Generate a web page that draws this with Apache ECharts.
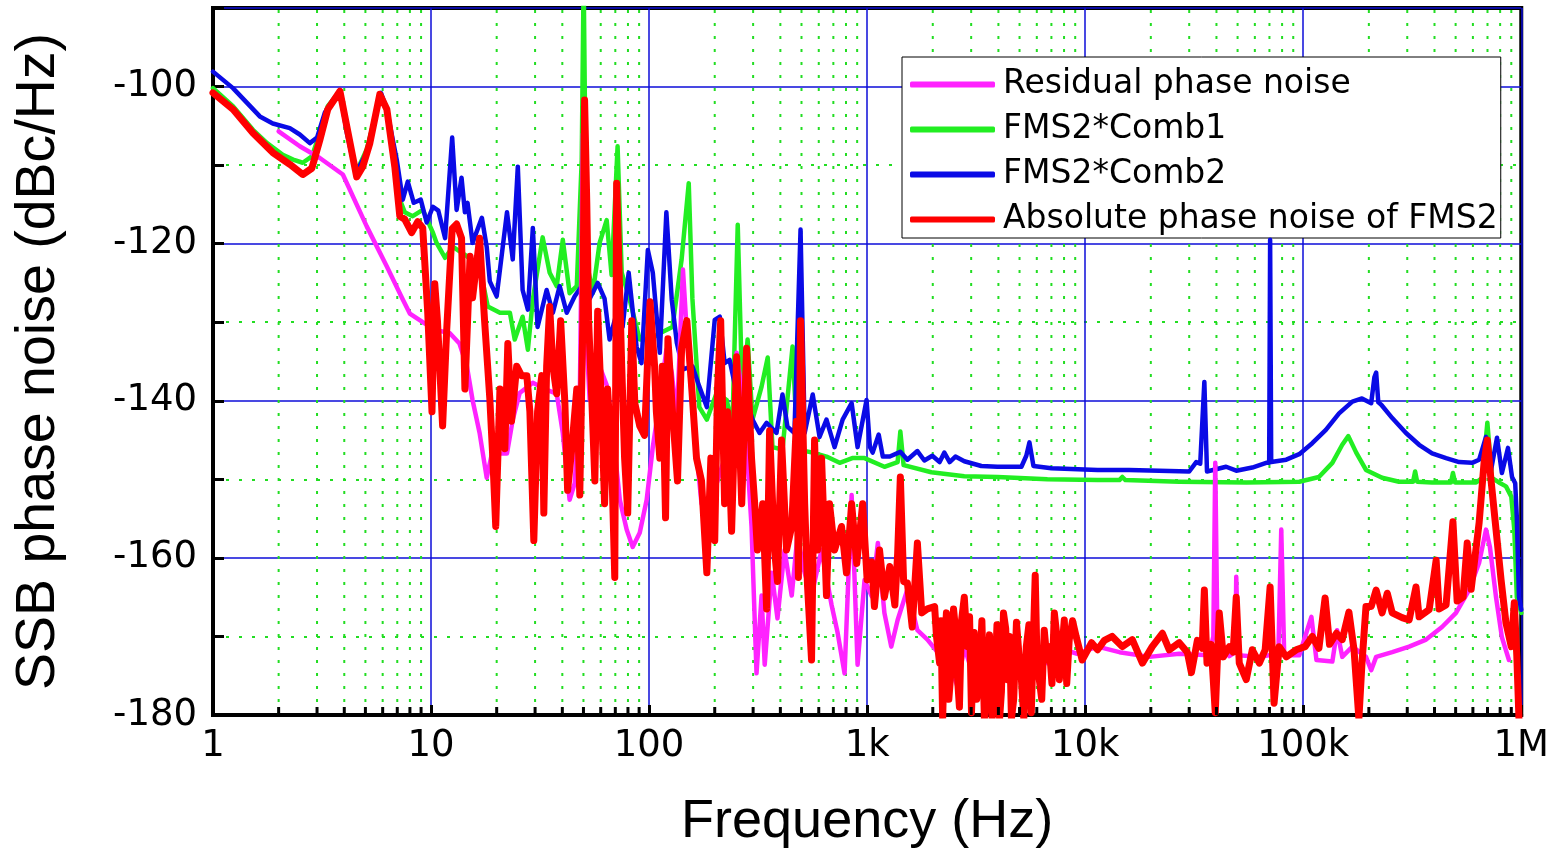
<!DOCTYPE html>
<html>
<head>
<meta charset="utf-8">
<script src="https://cdn.jsdelivr.net/npm/echarts@6/dist/echarts.min.js"></script>
<style>html,body{margin:0;padding:0;background:#fff;}#c{width:1552px;height:854px;}</style>
</head>
<body>
<div id="c"></div>
<script>
// ---- tick labels / axis ----
const xTickLabels = ['1','10','100','1k','10k','100k','1M'];
const minorTickFreqs = [2,3,4,5,6,7,8,9,20,30,40,50,60,70,80,90,200,300,400,500,600,700,800,900,
  2000,3000,4000,5000,6000,7000,8000,9000,20000,30000,40000,50000,60000,70000,80000,90000,
  200000,300000,400000,500000,600000,700000,800000,900000];
const seriesNames = ['Residual phase noise','FMS2*Comb1','FMS2*Comb2','Absolute phase noise of FMS2'];

// ---- series values: [frequency Hz, dBc/Hz] ----
const residual = [
[2.0,-105.7],[2.5,-107.6],[3.09,-109.1],[3.94,-111.2],[5.07,-117.8],[6.27,-122.9],[7.42,-127.1],[7.99,-128.9],[9.16,-130],
[10.6,-131],[12.2,-131.4],[13.5,-132.7],[14.6,-135.6],[15.5,-139.9],[16.7,-144.1],[18.0,-149.8],[19.2,-146.2],[20.7,-146.7],[22.3,-146.7],[23.7,-142.4],[25.5,-139],[29.3,-137.7],[33.9,-138.6],[37.7,-139.1],[40.2,-144.1],[43.2,-152.6],[45.6,-150.5],[48.1,-140],[49.7,-106],[51.1,-130],[53.4,-139.9],[55.2,-138],[59.3,-135.6],[63.9,-138],[68.2,-144.1],[73.4,-152.6],[78.9,-156.4],[84.1,-158.6],[90.6,-156.8],[97.5,-152.6],
[104,-145.9],[112,-139.9],[120,-133.5],[127,-136.4],[134,-142.4],[143,-123.3],[150,-132.7],[162,-144.4],[174,-153.1],[194,-152.5],[206,-150.2],[222,-147.3],[239,-153.1],[252,-133.9],[274,-141.4],[295,-156],[311,-174.7],[328,-164.8],[339,-173.6],[365,-161.9],[388,-167.7],[418,-159],[451,-164.8],[479,-157.2],[517,-161.9],[556,-164.8],[618,-159],[687,-166],[732,-169.5],[788,-174.7],[849,-152],[904,-173.6],
[973,-162.8],[1050,-164.9],[1120,-158.1],[1200,-167],[1290,-171.3],[1380,-167.9],[1530,-164],[1700,-169.2],[1890,-170.4],[2190,-172.6],[2440,-174.3],[2600,-176.4],[2790,-171.3],[3100,-175.5],[3450,-173.4],[3960,-173.9],[4730,-172.6],[5660,-172.6],[6710,-173.4],[8020,-171.7],[9200,-172.2],
[11400,-171.3],[14350,-172],[19700,-172.6],[27000,-172.2],[37000,-172.4],[38700,-170],[39500,-147.9],[40400,-170],[45800,-172.5],[48800,-172],[49300,-162.4],[50400,-172.4],[62900,-172.6],[76900,-172.2],[79300,-156.4],[81800,-172.4],
[95900,-172.4],[109000,-167.5],[115000,-173],[136000,-173.2],[143000,-169.2],[151000,-172.6],[168000,-171.3],[194000,-172.6],[205000,-174.3],[216000,-172.6],[256000,-172],[306000,-171.3],[366000,-170.4],[433000,-168.8],[502000,-167],[576000,-164.1],[641000,-160.6],[689000,-156.4],[718000,-158.6],[766000,-165],[815000,-170.1],[878000,-173]
];

const comb1 = [
[1.0,-100.2],[1.235,-102.5],[1.525,-105.5],[1.77,-107.2],[2.09,-108.7],[2.33,-109.3],[2.58,-109.7],[2.84,-108.9],[3.09,-105.9],[3.36,-102.5],[3.82,-100.6],[4.11,-105.5],[4.52,-111],[5.07,-108],[5.89,-101],[6.27,-103],[6.96,-110.6],[7.19,-114.4],[7.58,-116],[8.24,-116.5],[9.16,-115.7],
[10.2,-118.6],[10.6,-119.9],[11.6,-121.8],[12.6,-120.4],[14.6,-121.6],[16.7,-122.9],[18.2,-128],[20.7,-128.8],[23.0,-128.8],[24.2,-132.2],[26.3,-129.3],[27.8,-133.5],[29.3,-127.1],[32.5,-119.2],[35.0,-123.7],[37.7,-125.4],[40.2,-119.5],[43.2,-126.3],[46.6,-125.4],[49.1,-109.3],[50.1,-86],[51.1,-110],[52.2,-122.9],[55.2,-126.3],[59.3,-119.9],[63.9,-117],[67.3,-124],[71.7,-107.6],[74.9,-123.7],[81.4,-127.1],[90.6,-132.2],
[101,-132.2],[112,-131.4],[128,-130.6],[141,-122],[152,-112.3],[158,-127],[170,-140.8],[184,-142.4],[204,-139],[227,-139.9],[241,-143.3],[255,-117.6],[268,-140],[283,-132.2],[298,-142.4],[328,-138.2],[350,-134.5],[368,-145.9],[409,-146.2],[455,-133.1],[479,-146.2],[563,-146.6],[651,-147.1],[748,-147.9],[855,-147.3],
[973,-147.3],[1200,-148.4],[1380,-147.8],[1420,-143.9],[1470,-148.2],[1970,-149.1],[2790,-149.6],[3960,-149.7],[6710,-150],
[11400,-150.1],[14350,-150.1],[14800,-149.7],[15300,-150.1],[27000,-150.3],[54800,-150.4],
[95900,-150.3],[118000,-149.7],[136000,-147.9],[151000,-145.6],[161000,-144.5],[175000,-146.6],[194000,-148.8],[230000,-149.8],[275000,-150.3],[319000,-150.3],[326000,-149],[333000,-150.3],[390000,-150.4],[476000,-150.4],[486000,-149.2],[497000,-150.4],[621000,-150.4],[663000,-149.8],[699000,-142.8],[733000,-149.8],[790000,-150.4],[851000,-150.9],[900000,-152.2],[929000,-156.4],[954000,-165],[1000000,-167]
];

const comb2 = [
[1.0,-98.1],[1.235,-100.2],[1.64,-103.8],[1.88,-104.7],[2.25,-105.3],[2.5,-106.1],[2.78,-107.2],[3.0,-106.5],[3.26,-103.3],[3.55,-101.7],[3.82,-100.6],[4.11,-105.9],[4.52,-111],[5.07,-108.4],[5.41,-105],[5.89,-100.8],[6.27,-102.9],[6.96,-109.3],[7.42,-114.4],[7.82,-112.1],[8.33,-114.8],[8.97,-114.4],[9.55,-117.3],
[10.2,-115.3],[10.8,-115.8],[11.6,-119.3],[12.5,-106.5],[13.1,-115.7],[13.8,-111.6],[14.3,-116],[14.7,-114.8],[15.5,-119.9],[17.1,-116.7],[18.0,-120.4],[18.6,-124.8],[20.0,-126.7],[22.3,-116],[23.7,-122],[25.0,-110.2],[26.3,-125.9],[27.8,-128.4],[29.3,-118],[30.8,-130.6],[33.9,-125.9],[36.2,-128.8],[38.9,-125.4],[41.9,-128.8],[45.6,-126.7],[49.1,-125.4],[53.4,-127],[58.1,-125],[62.5,-127],[65.9,-132.2],[71.0,-128.8],[75.6,-130.6],[80.6,-123.7],[87.6,-133.1],[92.3,-135.2],[98.7,-120.8],
[104,-123.7],[112,-133.9],[120,-116],[127,-127.1],[134,-132.6],[143,-136],[158,-135.6],[170,-138.2],[184,-140.8],[200,-129.7],[211,-129.3],[222,-135.2],[234,-134.8],[252,-139],[280,-139.9],[298,-142.4],[321,-144.1],[346,-142.8],[384,-144.1],[409,-139.2],[431,-143.3],[464,-144.1],[495,-118.2],[517,-144.1],[563,-139.2],[605,-144.6],[651,-142.4],[709,-145.9],[772,-142.4],[849,-140.3],[904,-145.9],
[994,-139.9],[1030,-145.9],[1060,-146.6],[1130,-144.3],[1180,-147.1],[1270,-147.1],[1420,-146.5],[1530,-147.5],[1700,-146.4],[1830,-147.6],[1990,-147],[2150,-147.8],[2260,-146.6],[2390,-147.8],[2540,-147.1],[2790,-147.7],[3340,-148.3],[3960,-148.4],[5100,-148.4],[5370,-147],[5550,-145.3],[5790,-148.3],[7000,-148.6],[8630,-148.7],
[11400,-148.8],[15900,-148.8],[30000,-149],[32300,-147.8],[33700,-148],[35200,-137.6],[36200,-149],[44300,-148.4],[49300,-148.9],[58400,-148.5],[67600,-147.9],[69800,-147.9],[70500,-119.5],[71300,-147.8],[83600,-147.5],
[95900,-146.8],[110000,-145.4],[127000,-143.7],[146000,-141.6],[168000,-140.1],[186000,-139.7],[205000,-140.3],[212000,-137],[216000,-136.4],[221000,-140.2],[228000,-140.5],[256000,-142.2],[296000,-144.1],[340000,-145.6],[390000,-146.7],[452000,-147.3],[519000,-147.8],[595000,-147.9],[641000,-147.5],[689000,-144.6],[726000,-148.9],[774000,-144.7],[815000,-149.2],[869000,-146],[907000,-149.7],[938000,-150.5],[954000,-154.8],[976000,-165],[1000000,-166.6]
];

const absolute = [
[1.0,-100.8],[1.235,-102.9],[1.525,-105.9],[1.88,-108.4],[2.25,-109.9],[2.58,-111.2],[2.84,-110.4],[3.09,-106.8],[3.36,-102.9],[3.82,-100.6],[4.11,-105.1],[4.56,-111.5],[4.86,-110.2],[5.24,-107.2],[5.82,-101],[6.27,-102.9],[6.82,-110.2],[7.19,-116.5],[7.58,-116.9],[8.15,-118.6],[8.69,-117.2],[9.16,-118],[9.65,-128.6],
[10.1,-141.4],[10.4,-125.1],[10.7,-129.8],[11.3,-143.2],[11.8,-130.9],[12.5,-118.1],[13.1,-117.5],[13.8,-119.3],[14.3,-138.5],[15.1,-121.6],[15.5,-126.9],[16.7,-119.3],[17.6,-129.8],[18.6,-139.7],[19.2,-147.3],[19.8,-156],[20.7,-138.5],[21.8,-146.1],[22.5,-132.7],[23.4,-142.6],[24.7,-135.6],[26.0,-136.8],[27.5,-136.8],[28.4,-141.4],[29.6,-157.8],[30.8,-141.4],[32.2,-136.8],[32.9,-154.3],[33.9,-135.6],[35.0,-128],[36.2,-135.6],[37.7,-139.1],[39.3,-129.8],[41.1,-140.3],[42.3,-151.4],[44.2,-146.1],[46.6,-138.5],[48.1,-152],[49.7,-129.8],[50.6,-101.7],[51.8,-115],[52.8,-129.8],[54.6,-139.7],[56.4,-150.2],[58.1,-128.6],[60.6,-141.4],[62.5,-153.1],[64.5,-138.5],[67.3,-147.3],[69.6,-162.5],[71.0,-112.3],[74.9,-135.6],[77.2,-147.3],[79.8,-154.3],[83.3,-129.8],[86.0,-140.3],[90.6,-143.2],[95.3,-144.4],
[101,-127.4],[106,-135.6],[108,-141.4],[112,-147.3],[115,-135.6],[119,-154.9],[122,-132.1],[128,-141.4],[135,-150.2],[141,-133.3],[149,-129.8],[157,-138.5],[165,-147.3],[174,-150.2],[184,-161.9],[192,-147.3],[200,-157.8],[206,-138.5],[213,-129.8],[222,-153.1],[229,-141.4],[239,-156.6],[252,-134.4],[266,-153.1],[280,-133.3],[295,-147.3],[305,-153.1],[314,-159],[332,-153.1],[346,-166.5],[357,-143.8],[376,-159],[388,-163],[405,-145],[427,-159],[451,-156],[474,-142.6],[484,-162.5],[495,-129.8],[517,-153.1],[533,-163.6],[556,-173],[574,-145],[592,-159],[618,-147.3],[651,-164.8],[672,-153.1],[709,-159],[763,-156],[804,-161.9],[849,-153.1],[896,-160.7],[954,-153.1],
[1000,-162.8],[1050,-160.5],[1080,-166.2],[1140,-159],[1200,-165],[1270,-161.1],[1340,-166],[1380,-159.5],[1420,-149.7],[1470,-163],[1530,-163.2],[1610,-168.8],[1700,-158.1],[1780,-167],[1890,-166.5],
[2040,-166.2],[2080,-170],[2150,-173.4],[2180,-168],[2220,-180.5],[2260,-172],[2310,-167],[2370,-178],[2440,-173.4],[2490,-166.5],[2560,-170],[2600,-175.5],[2650,-179],[2710,-168],[2790,-165],[2880,-171.3],[2950,-167.5],[3010,-179.7],[3100,-169.5],[3180,-178],[3270,-175.5],[3360,-168],[3450,-180.5],[3540,-176],[3640,-169.8],[3740,-180.5],[3830,-178],[3940,-168.5],[4050,-180.5],[4130,-177],[4220,-167],[4320,-169],[4400,-175.5],[4500,-170],[4590,-180.5],[4700,-178],[4840,-168.2],[4960,-172],[5100,-175.5],[5230,-180.5],[5370,-171.3],[5520,-168.5],[5660,-179.7],[5900,-162.2],[6000,-172],[6160,-175.5],[6320,-178],[6490,-169.2],[6680,-173],[6850,-171.3],[7040,-176],[7220,-167],[7420,-170],[7610,-175.5],[7810,-172],[8020,-167.9],[8230,-176],[8450,-170.4],[8750,-168],[9090,-170],[9690,-173],
[10700,-170.8],[11400,-171.7],[12250,-170.5],[13300,-170],[14800,-171.3],[16450,-170.4],[18300,-173.4],[20300,-171.3],[22600,-169.6],[24300,-171.7],[27000,-170.8],[29400,-172],[30700,-174.6],[32700,-170.5],[34400,-171.5],[35200,-164.1],[36200,-173.4],[37800,-171],[39500,-179.7],[41200,-167],[43000,-172.6],[45800,-171.3],[47700,-172],[49300,-165],[50900,-173.4],[54800,-175.5],[58400,-171.7],[62900,-173.4],[66900,-171.7],[70500,-163.7],[73500,-178.5],[77600,-171.3],[83600,-172.6],[92800,-171.7],
[102000,-171.3],[110000,-170],[118000,-171.5],[126000,-165.1],[132000,-171],[142000,-169.6],[151000,-170.4],[162000,-166.9],[171000,-171.7],[180000,-180.5],[186000,-173.4],[194000,-166.2],[205000,-166.2],[216000,-164.1],[230000,-167],[243000,-164.5],[256000,-167],[284000,-167.6],[306000,-167.9],[329000,-163.7],[340000,-167.5],[378000,-166.6],[407000,-160.3],[420000,-166.5],[452000,-166],[486000,-155.4],[508000,-165.5],[541000,-165],[565000,-158.1],[589000,-164],[641000,-155.5],[675000,-147.9],[699000,-145],[726000,-150],[766000,-156.4],[808000,-162.8],[851000,-168.3],[900000,-171.3],[929000,-165.7],[954000,-172.5],[976000,-180.5]
];

const TITLE_FONT = 'Liberation Sans, Arial, sans-serif';
const LABEL_FONT = 'DejaVu Sans, sans-serif';
const BLUE_GRID = '#0c0cd8';
const GREEN_GRID = '#22dd22';

const chart = echarts.init(document.getElementById('c'), null, {renderer: 'canvas'});

function lineSeries(name, data, color, width, z) {
  return {
    name: name, type: 'line', data: data, showSymbol: false, symbol: 'none',
    lineStyle: {color: color, width: width, join: 'round', cap: 'round'},
    itemStyle: {color: color}, z: z, clip: true, silent: true
  };
}

chart.setOption({
  animation: false,
  backgroundColor: '#fff',
  grid: {left: 213, right: 30, top: 8, bottom: 138, show: true, borderColor: '#000', borderWidth: 4, backgroundColor: '#fff'},
  legend: {
    data: seriesNames,
    orient: 'vertical', left: 902, top: 57,
    icon: 'roundRect', itemWidth: 85, itemHeight: 6, itemGap: 8,
    padding: [9, 3, 0, 8],
    backgroundColor: '#fff', borderColor: '#000', borderWidth: 1, borderRadius: 0,
    textStyle: {fontSize: 33, fontFamily: LABEL_FONT, color: '#000', lineHeight: 37, padding: [0, 0, 0, 3]},
    selectedMode: false
  },
  xAxis: {
    type: 'log', logBase: 10, min: 1, max: 1000000,
    name: 'Frequency (Hz)', nameLocation: 'middle', nameGap: 80,
    nameTextStyle: {fontSize: 54, fontFamily: TITLE_FONT, color: '#000'},
    axisLine: {show: true, onZero: false, lineStyle: {color: '#000', width: 4}},
    axisTick: {show: true, inside: true, length: 10, lineStyle: {color: '#000', width: 3}},
    axisLabel: {fontSize: 37, fontFamily: LABEL_FONT, color: '#000', margin: 13,
      formatter: function (v) { return xTickLabels[Math.round(Math.log10(v))]; }},
    splitLine: {show: true, lineStyle: {color: BLUE_GRID, width: 1.5}},
    minorTick: {show: false}, minorSplitLine: {show: false}
  },
  yAxis: {
    type: 'value', min: -180, max: -90, interval: 20,
    name: 'SSB phase noise (dBc/Hz)', nameLocation: 'middle', nameGap: 146, nameRotate: 90,
    nameTextStyle: {fontSize: 55.5, fontFamily: TITLE_FONT, color: '#000'},
    axisLine: {show: true, lineStyle: {color: '#000', width: 4}},
    axisTick: {show: true, inside: true, length: 11, lineStyle: {color: '#000', width: 3}},
    minorTick: {show: true, splitNumber: 2, length: 11, lineStyle: {color: '#000', width: 3}},
    axisLabel: {fontSize: 37, fontFamily: LABEL_FONT, color: '#000', margin: 16, showMaxLabel: false},
    splitLine: {show: true, lineStyle: {color: BLUE_GRID, width: 1.5}},
    minorSplitLine: {show: true, lineStyle: {color: GREEN_GRID, width: 2, type: [3, 10]}}
  },
  series: [
    {
      type: 'custom', name: 'minorGrid', silent: true, z: 1,
      data: minorTickFreqs.map(function (f) { return [f, -180]; }),
      renderItem: function (params, api) {
        const p0 = api.coord([api.value(0), -180]);
        const p1 = api.coord([api.value(0), -90]);
        return {type: 'line', shape: {x1: p0[0], y1: p0[1], x2: p1[0], y2: p1[1]},
          style: {stroke: GREEN_GRID, lineWidth: 2, lineDash: [3, 10]}};
      }
    },
    lineSeries(seriesNames[1], comb1, '#22ee22', 4.5, 3),
    lineSeries(seriesNames[2], comb2, '#0a0ae6', 4.5, 4),
    lineSeries(seriesNames[0], residual, '#ff22ff', 4.5, 5),
    lineSeries(seriesNames[3], absolute, '#ff0000', 7, 6),
    {
      type: 'custom', name: 'minorTicks', silent: true, z: 10,
      data: minorTickFreqs.map(function (f) { return [f, -180]; }),
      renderItem: function (params, api) {
        const p0 = api.coord([api.value(0), -180]);
        return {type: 'line', shape: {x1: p0[0], y1: p0[1], x2: p0[0], y2: p0[1] - 8},
          style: {stroke: '#000', lineWidth: 3}};
      }
    }
  ]
});
</script>
</body>
</html>
